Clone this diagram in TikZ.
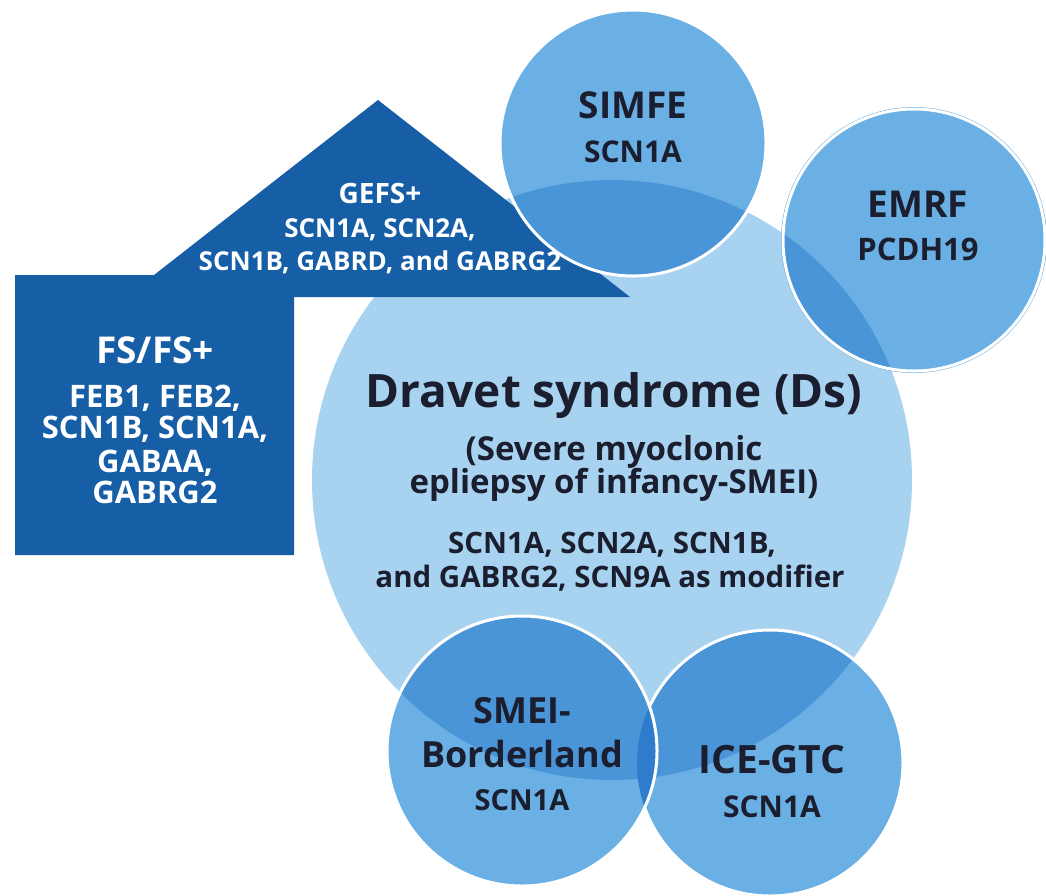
\documentclass[tikz,border=0pt]{standalone}
\usepackage{fontspec}
\setmainfont{Open Sans}

\definecolor{housecol}{RGB}{22,94,166}
\definecolor{bigcol}{RGB}{168,211,240}
\definecolor{smallcol}{RGB}{106,176,228}
\definecolor{lenscol}{RGB}{74,148,216}
\definecolor{deepcol}{RGB}{48,124,204}
\definecolor{inkcol}{RGB}{26,30,46}

\tikzset{
  bigdisc/.style={circle, fill=bigcol, minimum size=600pt, inner sep=0pt},
  disc/.style={circle, fill=smallcol, minimum size=266pt, inner sep=0pt},
  rim/.style={draw=white, line width=3pt},
  lbl/.style={anchor=base, inner sep=0pt, text=inkcol, font=\bfseries\fontsize{#1}{#1}\selectfont},
  wlbl/.style={anchor=base, inner sep=0pt, text=white, font=\bfseries\fontsize{#1}{#1}\selectfont}
}

\begin{document}
\begin{tikzpicture}[x=1pt, y=-1pt]
\useasboundingbox (0,0) rectangle (1046,895);

\node[bigdisc] (ds) at (612,480){};

% house: FS box with GEFS roof
\fill[housecol] (15,555) -- (15,275) -- (154,275) -- (378,100) -- (630,297)
  -- (294,297) -- (294,555) -- cycle;

\node[disc] (simfe) at (633,143){};
\begin{scope}
\clip (ds.center) circle (300pt);
\fill[lenscol] (simfe.center) circle (133pt);
\end{scope}
\draw[rim] (simfe.center) circle (133pt);

\node[disc] (emrf) at (914,240){};
\begin{scope}
\clip (ds.center) circle (300pt);
\fill[lenscol] (emrf.center) circle (131pt);
\end{scope}
\draw[rim] (emrf.center) circle (131pt);

\node[disc] (ice) at (770,763){};
\begin{scope}
\clip (ds.center) circle (300pt);
\fill[lenscol] (ice.center) circle (133pt);
\end{scope}
\draw[rim] (ice.center) circle (133pt);

\node[disc, minimum size=270pt] (smei) at (522,751){};
\begin{scope}
\clip (ds.center) circle (300pt);
\fill[lenscol] (smei.center) circle (135pt);
\end{scope}
\begin{scope}
\clip (ice.center) circle (133pt);
\fill[deepcol] (smei.center) circle (135pt);
\end{scope}
\draw[rim] (smei.center) circle (135pt);

\node[wlbl=37] (fs0) at (155,363){FS/FS+};
\node[wlbl=31] (fs1) at (155,407){FEB1, FEB2,};
\node[wlbl=31] (fs2) at (155,438){SCN1B, SCN1A,};
\node[wlbl=31] (fs3) at (155,472){GABAA,};
\node[wlbl=31] (fs4) at (155,503){GABRG2};

\node[wlbl=28] (gefs0) at (380,203){GEFS+};
\node[wlbl=26] (gefs1) at (380,237){SCN1A, SCN2A,};
\node[wlbl=26] (gefs2) at (380,270){SCN1B, GABRD, and GABRG2};

\node[lbl=46] (ds0) at (614,407){Dravet syndrome (Ds)};
\node[lbl=33] (ds1) at (614,460){(Severe myoclonic};
\node[lbl=33] (ds2) at (614,493){epliepsy of infancy-SMEI)};
\node[lbl=29.5] (ds3) at (612,553){SCN1A, SCN2A, SCN1B,};
\node[lbl=29.5] (ds4) at (610,587){and GABRG2, SCN9A as modifier};

\node[lbl=37] (simfe0) at (633,118){SIMFE};
\node[lbl=30] (simfe1) at (633,162){SCN1A};

\node[lbl=37] (emrf0) at (918,217){EMRF};
\node[lbl=31] (emrf1) at (918,260){PCDH19};

\node[lbl=36] (smei0) at (522,723){SMEI-};
\node[lbl=36] (smei1) at (522,767){Borderland};
\node[lbl=29] (smei2) at (522,810){SCN1A};

\node[lbl=39] (ice0) at (772,773){ICE-GTC};
\node[lbl=30] (ice1) at (772,817){SCN1A};

\end{tikzpicture}
\end{document}
